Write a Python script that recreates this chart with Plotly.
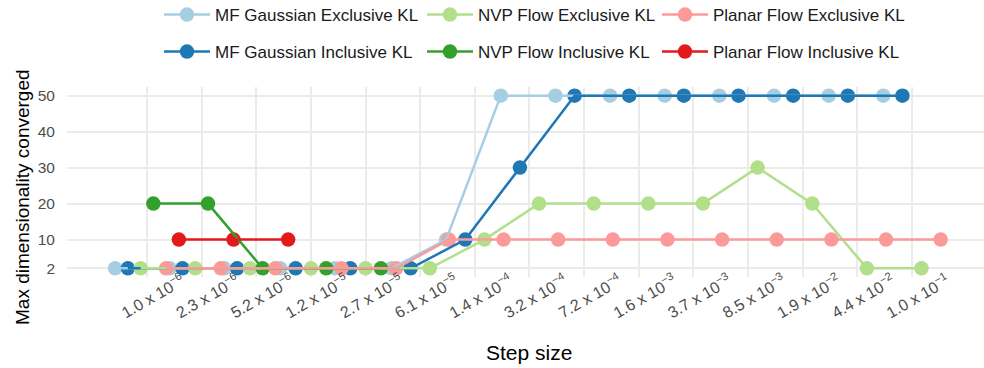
import plotly.graph_objects as go

# ---------------- data ----------------
step_labels = [
    "1.0 x 10<sup>\u22126</sup>", "2.3 x 10<sup>\u22126</sup>", "5.2 x 10<sup>\u22126</sup>",
    "1.2 x 10<sup>\u22125</sup>", "2.7 x 10<sup>\u22125</sup>", "6.1 x 10<sup>\u22125</sup>",
    "1.4 x 10<sup>\u22124</sup>", "3.2 x 10<sup>\u22124</sup>", "7.2 x 10<sup>\u22124</sup>",
    "1.6 x 10<sup>\u22123</sup>", "3.7 x 10<sup>\u22123</sup>", "8.5 x 10<sup>\u22123</sup>",
    "1.9 x 10<sup>\u22122</sup>", "4.4 x 10<sup>\u22122</sup>", "1.0 x 10<sup>\u22121</sup>",
]

series_names = [
    "MF Gaussian Exclusive KL", "MF Gaussian Inclusive KL",
    "NVP Flow Exclusive KL", "NVP Flow Inclusive KL",
    "Planar Flow Exclusive KL", "Planar Flow Inclusive KL",
]

mf_gaussian_exclusive = [2, 2, 2, 2, 2, 2, 10, 50, 50, 50, 50, 50, 50, 50, 50]
mf_gaussian_inclusive = [2, 2, 2, 2, 2, 2, 10, 30, 50, 50, 50, 50, 50, 50, 50]
nvp_flow_exclusive = [2, 2, 2, 2, 2, 2, 10, 20, 20, 20, 20, 30, 20, 2, 2]
nvp_flow_inclusive = [20, 20, 2, 2, 2, None, None, None, None, None, None, None, None, None, None]
planar_flow_exclusive = [2, 2, 2, 2, 2, 10, 10, 10, 10, 10, 10, 10, 10, 10, 10]
planar_flow_inclusive = [10, 10, 10, None, None, None, None, None, None, None, None, None, None, None, None]

y_ticks = [2, 10, 20, 30, 40, 50]

colors = ["#A6CEE3", "#1F78B4", "#B2DF8A", "#33A02C", "#FB9A99", "#E31A1C"]

series_values = [
    mf_gaussian_exclusive, mf_gaussian_inclusive,
    nvp_flow_exclusive, nvp_flow_inclusive,
    planar_flow_exclusive, planar_flow_inclusive,
]

# ---------------- dodge (like position_dodge) ----------------
DODGE = 1.4
n_cat = len(step_labels)
xs = [[None] * n_cat for _ in series_values]
for k in range(n_cat):
    present = [i for i, v in enumerate(series_values) if v[k] is not None]
    n = len(present)
    for j, i in enumerate(present):
        xs[i][k] = k + (j - (n - 1) / 2) * DODGE / n

FONT = "Liberation Sans, Arial, Helvetica, sans-serif"
LW = 2.5
MS = 14.5
W, H = 984, 368
ML, MR, MT, MB = 67, 0, 87, 91
PW, PH = W - ML - MR, H - MT - MB


def px_to_paper_x(px):
    return (px - ML) / PW


def px_to_paper_y(py):
    return (H - MB - py) / PH


fig = go.Figure()

# points first
for i, name in enumerate(series_names):
    fig.add_trace(go.Scatter(
        x=xs[i], y=series_values[i], mode="markers",
        marker=dict(color=colors[i], size=MS, line=dict(width=0)),
        showlegend=False, name=name,
    ))
# lines on top
for i, name in enumerate(series_names):
    fig.add_trace(go.Scatter(
        x=xs[i], y=series_values[i], mode="lines",
        line=dict(color=colors[i], width=LW),
        showlegend=False, hoverinfo="skip", connectgaps=False,
    ))

# legend entries (one legend per entry, 3 columns x 2 rows)
col_marker_x = [187, 450, 685]
row_y = [15, 52]
legend_order = [0, 2, 4, 1, 3, 5]
layout_legends = {}
for pos, i in enumerate(legend_order):
    r, c = divmod(pos, 3)
    key = "legend" if pos == 0 else f"legend{pos + 1}"
    fig.add_trace(go.Scatter(
        x=[None], y=[None], mode="lines+markers", name=series_names[i],
        line=dict(color=colors[i], width=LW),
        marker=dict(color=colors[i], size=MS),
        legend=key, showlegend=True,
    ))
    layout_legends[key] = dict(
        xref="container", yref="container",
        x=(col_marker_x[c] - 28) / W, y=1 - row_y[r] / H,
        xanchor="left", yanchor="middle",
        font=dict(family=FONT, size=17, color="#1A1A1A"),
        bgcolor="rgba(0,0,0,0)", borderwidth=0, itemwidth=46,
        orientation="v",
    )

annotations = [
    dict(
        x=px_to_paper_x(529), xref="paper", y=px_to_paper_y(352), yref="paper",
        text="Step size", showarrow=False, xanchor="center", yanchor="middle",
        font=dict(family=FONT, size=21, color="#000000"),
    ),
    dict(
        x=px_to_paper_x(22), xref="paper", y=px_to_paper_y(197), yref="paper",
        text="Max dimensionality converged", textangle=-90, showarrow=False,
        xanchor="center", yanchor="middle",
        font=dict(family=FONT, size=19, color="#000000"),
    ),
]

fig.update_layout(
    width=W, height=H,
    margin=dict(l=ML, r=MR, t=MT, b=MB, autoexpand=False),
    plot_bgcolor="white", paper_bgcolor="white",
    font=dict(family=FONT),
    annotations=annotations,
    **layout_legends,
)
fig.update_xaxes(
    range=[-1.464, 15.318], tickvals=list(range(n_cat)), ticktext=step_labels,
    tickangle=-30, ticklabelshift=35, ticklabelstandoff=-9,
    tickfont=dict(family=FONT, size=16, color="#4D4D4D"),
    showgrid=True, gridcolor="#EBEBEB", gridwidth=1.8, zeroline=False, showline=False, ticks="",
    layer="above traces",
)
fig.update_yaxes(
    range=[-0.4, 52.4], tickvals=y_ticks, ticktext=[str(v) for v in y_ticks],
    showgrid=True, gridcolor="#EBEBEB", gridwidth=1.8, zeroline=False, showline=False, ticks="",
    tickfont=dict(family=FONT, size=15.5, color="#4D4D4D"), ticklabelstandoff=11,
)

fig.write_html(
    "out.html",
    config={"displayModeBar": False},
    post_script="document.body.style.margin='0px';document.body.style.padding='0px';",
)
